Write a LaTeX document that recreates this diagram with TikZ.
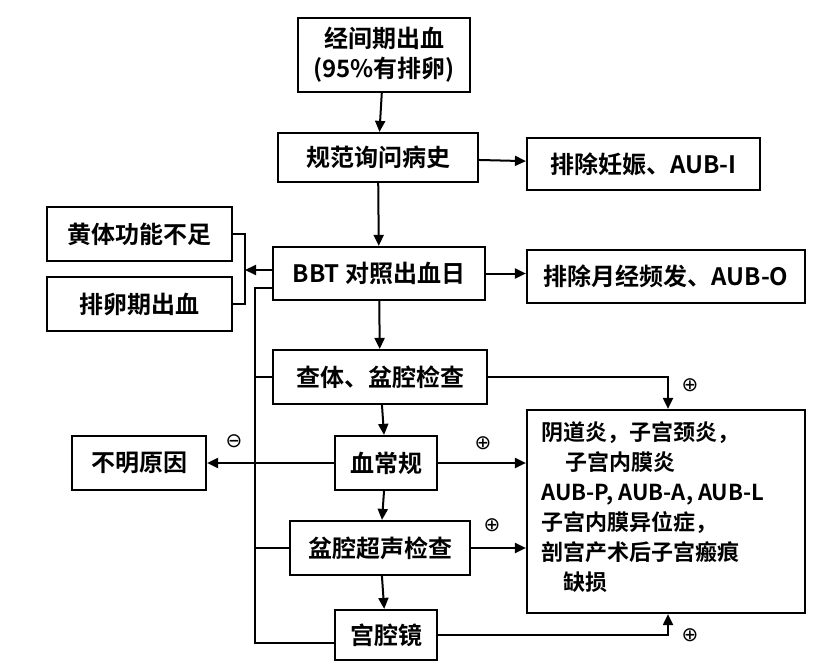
\documentclass[tikz,border=0pt]{standalone}
\usepackage{fontspec}
\setmainfont{Noto Sans CJK SC}[BoldFont={* Bold}]
\newfontfamily\symf{DejaVu Sans}
\usetikzlibrary{arrows.meta}
\begin{document}
\begin{tikzpicture}[x=1pt,y=-1pt,
  bx/.style={draw,line width=2.2pt,inner sep=0pt,font=\fontsize{24}{30}\selectfont\bfseries},
  ln/.style={line width=2pt},
  ar/.style={line width=2pt,-{Triangle[length=11pt,width=10pt]}},
  sg/.style={font=\fontsize{20}{20}\selectfont\symf}]
\useasboundingbox (0,0) rectangle (824,671);
\newcommand{\bxat}[5]{\node[bx,minimum width=#3-#2,minimum height=#5-#4,align=center] (#1) at ({(#2+#3)/2},{(#4+#5)/2})}
\bxat{top}{298}{470}{18}{92}{经间期出血\\(95\%有排卵)};
\bxat{hist}{278}{478}{133}{182}{规范询问病史};
\bxat{preg}{527}{760}{138}{190}{排除妊娠、AUB-I};
\bxat{huang}{47}{232}{207}{261}{黄体功能不足};
\bxat{pai}{47}{232}{277}{331}{排卵期出血};
\bxat{bbt}{273}{485}{247}{300}{BBT 对照出血日};
\bxat{freq}{527}{805}{250}{303}{排除月经频发、AUB-O};
\bxat{cha}{273}{487}{350}{404}{查体、盆腔检查};
\bxat{unk}{72}{206}{436}{490}{不明原因};
\bxat{blood}{335}{437}{436}{490}{血常规};
\bxat{big}{527}{805}{410}{613}{};
\bxat{us}{290}{470}{521}{575}{盆腔超声检查};
\bxat{hys}{335}{437}{610}{660}{宫腔镜};
\node[anchor=north west,align=left,font=\fontsize{22}{30}\selectfont\bfseries] (bigtxt) at (538,418)
 {阴道炎，子宫颈炎，\\\hspace*{1.1em}子宫内膜炎\\AUB-P, AUB-A, AUB-L\\子宫内膜异位症，\\剖宫产术后子宫瘢痕\\\hspace*{1em}缺损};
\draw[ar] (top) -- (hist);
\draw[ar] (hist) -- (preg);
\draw[ar] (hist) -- (bbt);
\draw[ar] (bbt.east) -- (freq.west|-bbt.east);
\draw[ar] (bbt) -- (cha);
\draw[ar] (cha) -- (blood);
\draw[ar] (blood) -- (us);
\draw[ar] (us) -- (hys);
\coordinate (bk) at (245,270);
\draw[ln] (huang.east) -| (bk) |- (pai.east);
\draw[ar] (bbt.west|-bk) -- (bk);
\coordinate (vt) at (255,288);
\coordinate (vb) at (255,643);
\draw[ln] (bbt.west|-vt) -- (vt) -- (vb) -- (hys.west|-vb);
\draw[ln] (vt|-cha.west) -- (cha.west);
\draw[ln] (vt|-us.west) -- (us.west);
\draw[ar] (blood.west) -- (unk.east);
\node[sg] (m1) at (234,441) {⊖};
\coordinate (rc) at (668,377);
\draw[ar] (cha.east) -- (rc) -- (rc|-big.north);
\node[sg] (p1) at (690,385) {⊕};
\draw[ar] (blood.east) -- (big.west|-blood.east);
\node[sg] (p2) at (483,443) {⊕};
\draw[ar] (us.east) -- (big.west|-us.east);
\node[sg] (p3) at (492,525) {⊕};
\coordinate (rb) at (668,635);
\draw[ar] (hys.east|-rb) -- (rb) -- (rb|-big.south);
\node[sg] (p4) at (690,635) {⊕};
\end{tikzpicture}
\end{document}
